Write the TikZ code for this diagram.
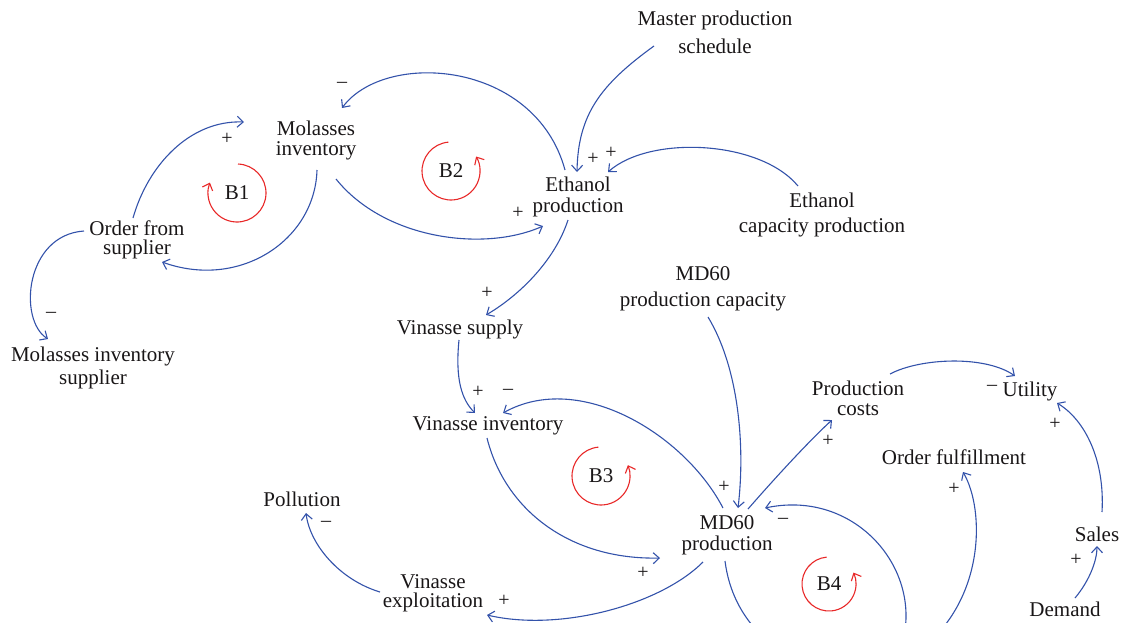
\documentclass[tikz,border=0pt]{standalone}
\usepackage{fontspec}
\setmainfont{Liberation Serif}
\usetikzlibrary{arrows.meta}
\definecolor{lnk}{RGB}{51,82,170}
\definecolor{lp}{RGB}{232,40,40}
\definecolor{txt}{RGB}{25,22,23}
\tikzset{
 lbl/.style={inner sep=0pt, align=center, text=txt, font=\fontsize{21}{20}\selectfont},
 sgn/.style={inner sep=0pt, text=txt, font=\fontsize{20}{20}\selectfont},
 lnkarr/.style={draw=lnk, line width=1.1pt, -{Straight Barb[length=6pt,width=11pt]}},
 looparr/.style={draw=lp, line width=1.1pt, -{Straight Barb[length=6pt,width=11pt]}},
}
\begin{document}
\begin{tikzpicture}[x=1pt,y=-1pt]
\useasboundingbox (0,0) rectangle (1121,622);
\clip (0,0) rectangle (1121,622);
% variables
\node[lbl] (mol) at (316,140) {Molasses\\inventory};
\node[lbl, font=\fontsize{21}{19}\selectfont] (osup) at (137,240) {Order from\\supplier};
\node[lbl, font=\fontsize{21}{23}\selectfont] (mis) at (93,368) {Molasses inventory\\supplier};
\node[lbl, font=\fontsize{21}{21}\selectfont] (eth) at (578,197) {Ethanol\\production};
\node[lbl, font=\fontsize{21}{28}\selectfont] (mps) at (715,32) {Master production\\schedule};
\node[lbl, font=\fontsize{21}{25}\selectfont] (ecap) at (822,215) {Ethanol\\capacity production};
\node[lbl] (vsup) at (460,329) {Vinasse supply};
\node[lbl, font=\fontsize{21}{26}\selectfont] (mdcap) at (703,289) {MD60\\production capacity};
\node[lbl] (vinv) at (488,426) {Vinasse inventory};
\node[lbl, font=\fontsize{21}{21}\selectfont] (md) at (727,535) {MD60\\production};
\node[lbl, font=\fontsize{21}{19}\selectfont] (vexp) at (433,593) {Vinasse\\exploitation};
\node[lbl] (pol) at (302,499) {Pollution};
\node[lbl] (pcost) at (858,398) {Production\\costs};
\node[lbl] (util) at (1030,391) {Utility};
\node[lbl] (ofull) at (954,457) {Order fulfillment};
\node[lbl] (sales) at (1097,534) {Sales};
\node[lbl] (dem) at (1065,609) {Demand};
% loop labels
\node[lbl] (b1) at (237,193) {B1};
\node[lbl] (b2) at (451,171) {B2};
\node[lbl] (b3) at (601,476) {B3};
\node[lbl] (b4) at (829,584) {B4};
% loop markers
\draw[looparr] ([shift={(-88:29)}]b1.center) arc[start angle=-88, end angle=201, radius=29];
\draw[looparr] ([shift={(-95:29)}]b2.center) arc[start angle=-95, end angle=-390, radius=29];
\draw[looparr] ([shift={(-95:29)}]b3.center) arc[start angle=-95, end angle=-382, radius=29];
\draw[looparr] ([shift={(-95:27)}]b4.center) arc[start angle=-95, end angle=-385, radius=27];
% connectors
\draw[lnkarr] ([shift={(-4,-22)}]osup.center) .. controls (148,165) and (190,120) .. ([shift={(-72,-18)}]mol.center);
\draw[lnkarr] ([shift={(1,30)}]mol.center) .. controls (315,240) and (240,290) .. ([shift={(25,22)}]osup.center);
\draw[lnkarr] ([shift={(-53,-9)}]osup.center) .. controls (25,235) and (18,320) .. ([shift={(-45,-29)}]mis.center);
\draw[lnkarr] ([shift={(-13,-27)}]eth.center) .. controls (535,60) and (385,50) .. ([shift={(26,-32)}]mol.center);
\draw[lnkarr] ([shift={(20,39)}]mol.center) .. controls (385,240) and (485,252) .. ([shift={(-35,29)}]eth.center);
\draw[lnkarr] ([shift={(-61,14)}]mps.center) .. controls (600,85) and (578,115) .. ([shift={(-1,-25)}]eth.center);
\draw[lnkarr] ([shift={(-24,-29)}]ecap.center) .. controls (760,140) and (650,135) .. ([shift={(30,-25)}]eth.center);
\draw[lnkarr] ([shift={(-10,23)}]eth.center) .. controls (555,260) and (520,295) .. ([shift={(26,-14)}]vsup.center);
\draw[lnkarr] ([shift={(-1,11)}]vsup.center) .. controls (455,380) and (462,400) .. ([shift={(-13,-13)}]vinv.center);
\draw[lnkarr] ([shift={(-4,-27)}]md.center) .. controls (685,435) and (580,370) .. ([shift={(15,-13)}]vinv.center);
\draw[lnkarr] ([shift={(-1,12)}]vinv.center) .. controls (505,510) and (570,560) .. ([shift={(-67,23)}]md.center);
\draw[lnkarr] ([shift={(5,28)}]mdcap.center) .. controls (740,370) and (745,450) .. ([shift={(11,-27)}]md.center);
\draw[lnkarr] ([shift={(21,-26)}]md.center) .. controls (775,478) and (810,440) .. ([shift={(-26,22)}]pcost.center);
\draw[lnkarr] ([shift={(32,-24)}]pcost.center) .. controls (920,358) and (985,355) .. ([shift={(-15,-15)}]util.center);
\draw[lnkarr] ([shift={(-24,27)}]md.center) .. controls (660,605) and (560,632) .. ([shift={(54,22)}]vexp.center);
\draw[lnkarr] ([shift={(-53,-1)}]vexp.center) .. controls (340,580) and (310,545) .. ([shift={(4,14)}]pol.center);
\draw[lnkarr] ([shift={(-2,26)}]md.center) .. controls (740,680) and (895,700) .. (905,630) .. controls (915,560) and (850,490) .. ([shift={(38,-27)}]md.center);
\coordinate (below) at (920,650);
\draw[lnkarr] (below) .. controls (985,600) and (985,510) .. ([shift={(9,15)}]ofull.center);
\draw[lnkarr] ([shift={(10,-11)}]dem.center) .. controls (1090,580) and (1097,560) .. ([shift={(0,12)}]sales.center);
\draw[lnkarr] ([shift={(5,-22)}]sales.center) .. controls (1105,460) and (1085,420) .. ([shift={(27,12)}]util.center);
% polarity signs
\node[sgn] (s1) at (227,139) {+};
\node[sgn] (s3) at (51,315) {–};
\node[sgn] (s4) at (342,85) {–};
\node[sgn] (s5) at (518,213) {+};
\node[sgn] (s6) at (593,159) {+};
\node[sgn] (s7) at (611,153) {+};
\node[sgn] (s8) at (487,293) {+};
\node[sgn] (s9) at (478,392) {+};
\node[sgn] (s10) at (508,392) {–};
\node[sgn] (s11) at (643,573) {+};
\node[sgn] (s12) at (724,487) {+};
\node[sgn] (s13) at (828,441) {+};
\node[sgn] (s14) at (992,388) {–};
\node[sgn] (s15) at (504,601) {+};
\node[sgn] (s16) at (326,524) {–};
\node[sgn] (s17) at (783,521) {–};
\node[sgn] (s18) at (954,489) {+};
\node[sgn] (s19) at (1076,560) {+};
\node[sgn] (s20) at (1055,424) {+};
\end{tikzpicture}
\end{document}
